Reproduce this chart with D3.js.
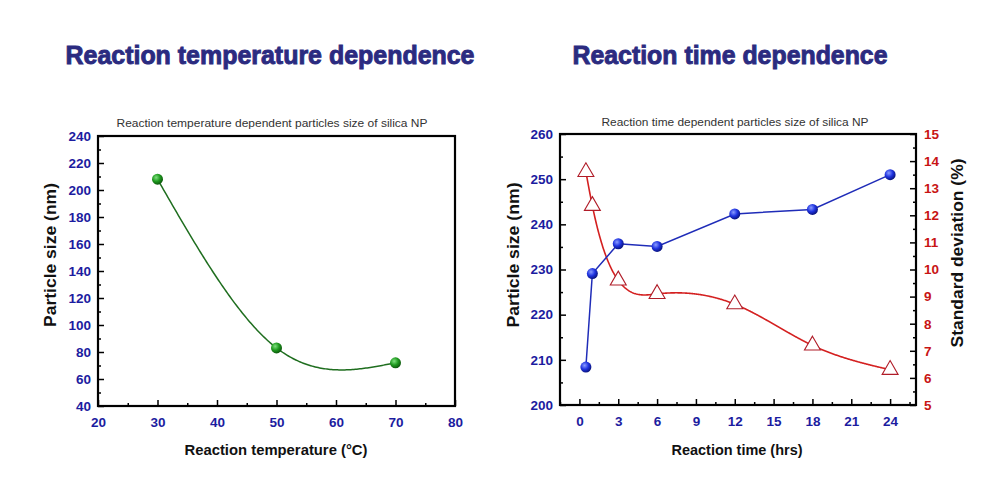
<!DOCTYPE html>
<html><head><meta charset="utf-8">
<script src="https://cdn.jsdelivr.net/npm/d3@7"></script>
<style>body{margin:0;background:#fff}svg{display:block}</style>
</head><body>
<svg id="c" width="1000" height="487"></svg>
<script>
// ---- data ----
const tempX = [30, 50, 70];
const tempSize = [208, 83, 72];
const timeX = [0.5, 1, 3, 6, 12, 18, 24];
const timeSize = [208.4, 229.1, 235.7, 235.1, 242.3, 243.3, 251.0];
const timeStd = [13.6, 12.35, 9.6, 9.1, 8.72, 7.2, 6.3];
const tempXTicks = [20, 30, 40, 50, 60, 70, 80];
const tempYTicks = [40, 60, 80, 100, 120, 140, 160, 180, 200, 220, 240];
const timeXTicks = [0, 3, 6, 9, 12, 15, 18, 21, 24];
const timeYTicks = [200, 210, 220, 230, 240, 250, 260];
const stdTicks = [5, 6, 7, 8, 9, 10, 11, 12, 13, 14, 15];

const svg = d3.select("#c");
const BLUE = "#1c1ca0", RED = "#c81414", TITLE = "#2b2b80";

// gradients for balls
const defs = svg.append("defs");
function ball(id, c0, c1, c2) {
  const g = defs.append("radialGradient").attr("id", id).attr("cx", "38%").attr("cy", "35%").attr("r", "65%");
  g.append("stop").attr("offset", "0%").attr("stop-color", c0);
  g.append("stop").attr("offset", "55%").attr("stop-color", c1);
  g.append("stop").attr("offset", "100%").attr("stop-color", c2);
}
ball("gGreen", "#7fe07f", "#1f9a1f", "#0d5a0d");
ball("gBlue", "#8a9cff", "#1f33e0", "#0a1480");

// natural cubic spline y(x)
function spline(xs, ys) {
  const n = xs.length, h = [], M = new Array(n).fill(0);
  for (let i = 0; i < n - 1; i++) h.push(xs[i + 1] - xs[i]);
  const A = [], B = [], C = [], D = [];
  for (let i = 1; i < n - 1; i++) {
    A.push(h[i - 1]); B.push(2 * (h[i - 1] + h[i])); C.push(h[i]);
    D.push(6 * ((ys[i + 1] - ys[i]) / h[i] - (ys[i] - ys[i - 1]) / h[i - 1]));
  }
  const m = B.length;
  for (let i = 1; i < m; i++) { const w = A[i] / B[i - 1]; B[i] -= w * C[i - 1]; D[i] -= w * D[i - 1]; }
  const sol = new Array(m);
  for (let i = m - 1; i >= 0; i--) sol[i] = (D[i] - (i < m - 1 ? C[i] * sol[i + 1] : 0)) / B[i];
  for (let i = 0; i < m; i++) M[i + 1] = sol[i];
  return x => {
    let i = 0; while (i < n - 2 && x > xs[i + 1]) i++;
    const t1 = xs[i + 1] - x, t0 = x - xs[i], hi = h[i];
    return M[i] * t1 * t1 * t1 / (6 * hi) + M[i + 1] * t0 * t0 * t0 / (6 * hi)
      + (ys[i] / hi - M[i] * hi / 6) * t1 + (ys[i + 1] / hi - M[i + 1] * hi / 6) * t0;
  };
}

function axisStyle(g, color) {
  g.select(".domain").remove();
  g.selectAll("line").attr("stroke", "#000").attr("stroke-width", 1.5);
  g.selectAll("text").attr("fill", color).attr("font-family", "Liberation Sans, Arial, sans-serif")
    .attr("font-weight", "bold").attr("font-size", 13.5);
}
function minorAxis(gen, vals) { return gen.tickValues(vals).tickSize(-3).tickFormat(""); }
function bigTitle(x, y, len, txt) {
  svg.append("text").attr("x", x).attr("y", y).attr("text-anchor", "middle")
    .attr("font-family", "Liberation Sans, Arial, sans-serif").attr("font-size", 25).attr("font-weight", "bold")
    .attr("fill", TITLE).attr("stroke", TITLE).attr("stroke-width", 0.9)
    .attr("textLength", len).attr("lengthAdjust", "spacingAndGlyphs").text(txt);
}

// ---------- LEFT CHART ----------
{
  const L = 98, R = 455, T = 136, B = 406;
  const x = d3.scaleLinear().domain([20, 80]).range([L, R]);
  const y = d3.scaleLinear().domain([40, 240]).range([B, T]);
  const gx = svg.append("g").attr("transform", `translate(0,${B})`)
    .call(d3.axisBottom(x).tickValues(tempXTicks).tickSize(-6).tickPadding(11));
  axisStyle(gx, BLUE);
  axisStyle(svg.append("g").attr("transform", `translate(0,${B})`).call(minorAxis(d3.axisBottom(x), d3.range(25, 80, 10))), BLUE);
  const gy = svg.append("g").attr("transform", `translate(${L},0)`)
    .call(d3.axisLeft(y).tickValues(tempYTicks).tickSize(-6).tickPadding(7));
  axisStyle(gy, BLUE);
  axisStyle(svg.append("g").attr("transform", `translate(${L},0)`).call(minorAxis(d3.axisLeft(y), d3.range(50, 240, 20))), BLUE);
  svg.append("rect").attr("x", L).attr("y", T).attr("width", R - L).attr("height", B - T)
    .attr("fill", "none").attr("stroke", "#000").attr("stroke-width", 2.2);

  const f = spline(tempX, tempSize);
  const pts = d3.range(tempX[0], tempX[tempX.length - 1] + 0.01, 0.25).map(v => [v, f(v)]);
  svg.append("path").attr("d", d3.line().x(d => x(d[0])).y(d => y(d[1]))(pts))
    .attr("fill", "none").attr("stroke", "#1f6e1f").attr("stroke-width", 1.5);
  svg.selectAll(".gb").data(tempX).join("circle").attr("cx", d => x(d)).attr("cy", (d, i) => y(tempSize[i]))
    .attr("r", 5.5).attr("fill", "url(#gGreen)");

  svg.append("text").attr("x", 272).attr("y", 127).attr("text-anchor", "middle")
    .attr("font-family", "Liberation Sans, Arial, sans-serif").attr("font-size", 11).attr("fill", "#333")
    .attr("textLength", 311).attr("lengthAdjust", "spacingAndGlyphs")
    .text("Reaction temperature dependent particles size of silica NP");
  svg.append("text").attr("x", 276).attr("y", 455).attr("text-anchor", "middle")
    .attr("font-family", "Liberation Sans, Arial, sans-serif").attr("font-size", 15).attr("font-weight", "bold")
    .attr("fill", "#111").attr("textLength", 183).attr("lengthAdjust", "spacingAndGlyphs")
    .text("Reaction temperature (°C)");
  svg.append("text").attr("transform", "translate(56,255) rotate(-90)").attr("text-anchor", "middle")
    .attr("font-family", "Liberation Sans, Arial, sans-serif").attr("font-size", 17).attr("font-weight", "bold")
    .attr("fill", "#111").attr("textLength", 144).attr("lengthAdjust", "spacingAndGlyphs")
    .text("Particle size (nm)");
  bigTitle(270, 64, 409, "Reaction temperature dependence");
}

// ---------- RIGHT CHART ----------
{
  const L = 560, R = 916, T = 134, B = 405;
  const x = d3.scaleLinear().domain([-1.5, 26]).range([L, R]);
  const y = d3.scaleLinear().domain([200, 260]).range([B, T]);
  const y2 = d3.scaleLinear().domain([5, 15]).range([B, T]);
  const gx = svg.append("g").attr("transform", `translate(0,${B})`)
    .call(d3.axisBottom(x).tickValues(timeXTicks).tickSize(-6).tickPadding(11));
  axisStyle(gx, BLUE);
  axisStyle(svg.append("g").attr("transform", `translate(0,${B})`).call(minorAxis(d3.axisBottom(x), d3.range(-1.5, 26, 3))), BLUE);
  const gy = svg.append("g").attr("transform", `translate(${L},0)`)
    .call(d3.axisLeft(y).tickValues(timeYTicks).tickSize(-6).tickPadding(7));
  axisStyle(gy, BLUE);
  axisStyle(svg.append("g").attr("transform", `translate(${L},0)`).call(minorAxis(d3.axisLeft(y), d3.range(205, 260, 10))), BLUE);
  const gy2 = svg.append("g").attr("transform", `translate(${R},0)`)
    .call(d3.axisRight(y2).tickValues(stdTicks).tickSize(-6).tickPadding(8));
  axisStyle(gy2, RED);
  axisStyle(svg.append("g").attr("transform", `translate(${R},0)`).call(minorAxis(d3.axisRight(y2), d3.range(5.5, 15, 1))), RED);
  svg.append("rect").attr("x", L).attr("y", T).attr("width", R - L).attr("height", B - T)
    .attr("fill", "none").attr("stroke", "#000").attr("stroke-width", 2.2);

  const f = spline(timeX, timeStd);
  const pts = d3.range(timeX[0], timeX[timeX.length - 1] + 0.001, 0.05).map(v => [v, f(v)]);
  svg.append("path").attr("d", d3.line().x(d => x(d[0])).y(d => y2(d[1]))(pts))
    .attr("fill", "none").attr("stroke", "#d42020").attr("stroke-width", 1.6);
  svg.append("path").attr("d", d3.line().x((d, i) => x(timeX[i])).y(d => y(d))(timeSize))
    .attr("fill", "none").attr("stroke", "#1f2cb8").attr("stroke-width", 1.5);
  const tri = d3.symbol().type(d3.symbolTriangle).size(110);
  svg.selectAll(".tr").data(timeX).join("path")
    .attr("transform", (d, i) => `translate(${x(d)},${y2(timeStd[i])})`).attr("d", tri)
    .attr("fill", "#fff").attr("stroke", "#b01c28").attr("stroke-width", 1.1);
  svg.selectAll(".bb").data(timeX).join("circle").attr("cx", d => x(d)).attr("cy", (d, i) => y(timeSize[i]))
    .attr("r", 5.5).attr("fill", "url(#gBlue)");

  svg.append("text").attr("x", 735).attr("y", 126).attr("text-anchor", "middle")
    .attr("font-family", "Liberation Sans, Arial, sans-serif").attr("font-size", 11).attr("fill", "#333")
    .attr("textLength", 267).attr("lengthAdjust", "spacingAndGlyphs")
    .text("Reaction time dependent particles size of silica NP");
  svg.append("text").attr("x", 737).attr("y", 455).attr("text-anchor", "middle")
    .attr("font-family", "Liberation Sans, Arial, sans-serif").attr("font-size", 15).attr("font-weight", "bold")
    .attr("fill", "#111").attr("textLength", 131).attr("lengthAdjust", "spacingAndGlyphs")
    .text("Reaction time (hrs)");
  svg.append("text").attr("transform", "translate(519,255) rotate(-90)").attr("text-anchor", "middle")
    .attr("font-family", "Liberation Sans, Arial, sans-serif").attr("font-size", 17).attr("font-weight", "bold")
    .attr("fill", "#111").attr("textLength", 145).attr("lengthAdjust", "spacingAndGlyphs")
    .text("Particle size (nm)");
  svg.append("text").attr("transform", "translate(963,253) rotate(-90)").attr("text-anchor", "middle")
    .attr("font-family", "Liberation Sans, Arial, sans-serif").attr("font-size", 17).attr("font-weight", "bold")
    .attr("fill", "#111").attr("textLength", 189).attr("lengthAdjust", "spacingAndGlyphs")
    .text("Standard deviation (%)");
  bigTitle(730, 64, 315, "Reaction time dependence");
}
</script>
</body></html>
